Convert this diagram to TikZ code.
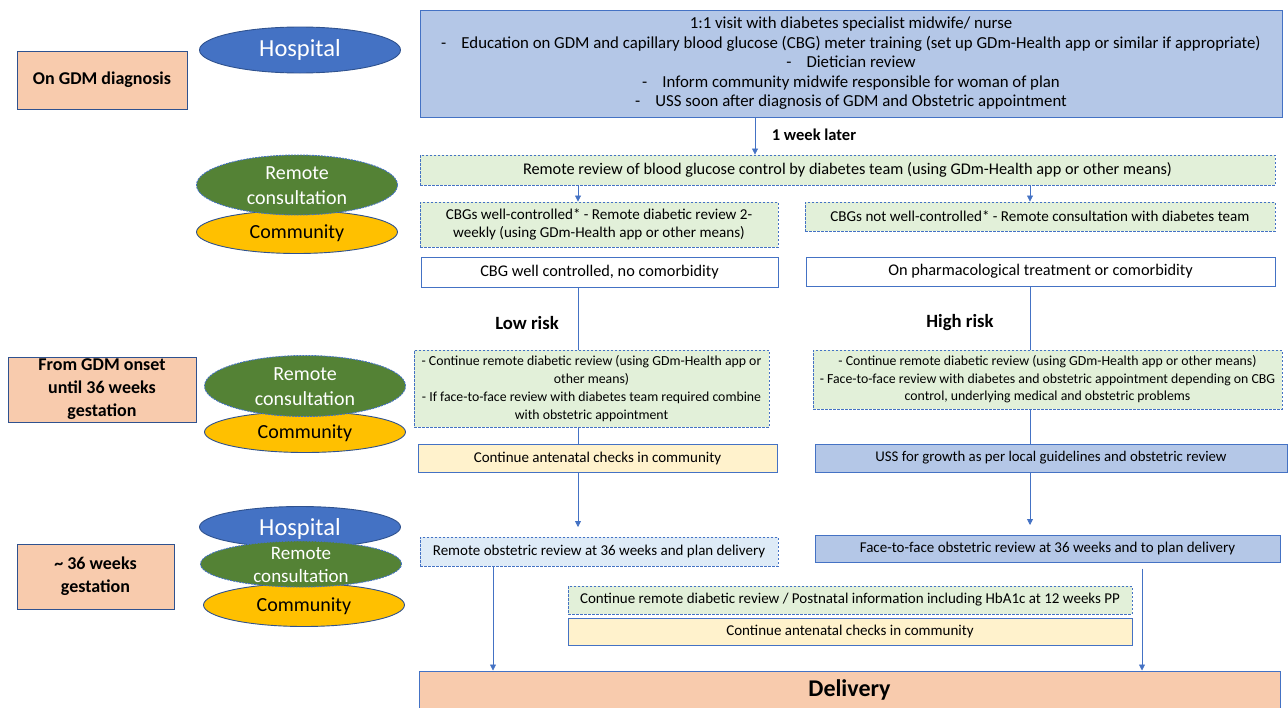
\documentclass[tikz,border=0pt]{standalone}
\usepackage{fontspec}
\setmainfont{Carlito}
\usetikzlibrary{shapes.geometric,arrows.meta}

\definecolor{edge}{HTML}{4472C4}
\definecolor{darkedge}{HTML}{2F528F}
\definecolor{peach}{HTML}{F8CBAD}
\definecolor{lgreen}{HTML}{E2F0D9}
\definecolor{lyellow}{HTML}{FFF2CC}
\definecolor{lblue}{HTML}{B4C7E7}
\definecolor{paleblue}{HTML}{DEEBF7}
\definecolor{hosp}{HTML}{4472C4}
\definecolor{rgreen}{HTML}{548235}
\definecolor{cyellow}{HTML}{FFC000}

\newcommand\setfs[2]{\fontsize{#1}{#2}\selectfont}

\tikzset{
  base/.style={inner sep=0pt, align=center},
  solidbox/.style={base, rectangle, draw=edge, line width=1pt},
  dashbox/.style={base, rectangle, draw=edge, line width=0.9pt,
    dash pattern=on 2.5pt off 1.5pt, fill=lgreen},
  stagebox/.style={solidbox, fill=peach, draw=darkedge, font=\bfseries\setfs{18}{23}},
  place/.style={ellipse, inner sep=0pt, line width=0.9pt, draw=darkedge, minimum width=201},
  hospital/.style={place, fill=hosp},
  remote/.style={place, fill=rgreen, draw=edge, dash pattern=on 2pt off 1pt},
  community/.style={place, fill=cyellow},
  placetext/.style={base, font=\setfs{20}{25}},
  heading/.style={base, font=\bfseries\setfs{18.7}{21}},
  conn/.style={draw=edge, line width=0.8pt},
  arr/.style={conn, -{Triangle[length=6pt,width=6pt]}},
}

\begin{document}
\begin{tikzpicture}[x=1pt,y=-1pt]
\useasboundingbox (0,0) rectangle (1288,707);
\clip (0,0) rectangle (1288,707);
\fill[white] (0,0) rectangle (1288,707);

% column positions of the connectors
\coordinate (colM) at (755,0);
\coordinate (colA) at (578,0);
\coordinate (colB) at (1030,0);
\coordinate (colL) at (493,0);
\coordinate (colR) at (1142,0);
\coordinate (tipA) at (578,527);
\coordinate (tipB) at (1030,525);

% ---- stage labels (left column) ----
\node[stagebox, minimum width=170, minimum height=58] (diag) at (102,80) {On GDM diagnosis};
\node[stagebox, minimum width=188, minimum height=65] (onset) at (102,389.5)
  {From GDM onset\\until 36 weeks\\gestation};
\node[stagebox, minimum width=157, minimum height=65] (wk36) at (95.5,576.5)
  {\textasciitilde\ 36 weeks\\gestation};

% ---- care settings ----
\node[hospital, minimum height=46] (hosp1) at (300,50) {};
\node[placetext, text=white, font=\setfs{24.5}{27}] (hosp1t) at (hosp1) {Hospital};

\node[community, minimum height=43] (com1) at (297,232) {};
\node[remote, minimum height=60] (rc1) at (297,185) {};
\node[placetext] (com1t) at (297,233) {Community};
\node[placetext, text=white] (rc1t) at (297,186) {Remote\\consultation};

\node[community, minimum height=41] (com2) at (305,432) {};
\node[remote, minimum height=61] (rc2) at (305,386) {};
\node[placetext] (com2t) at (305,433) {Community};
\node[placetext, text=white] (rc2t) at (305,387) {Remote\\consultation};

\node[hospital, minimum height=41] (hosp2) at (300,527) {};
\node[community, minimum height=43] (com3) at (304,605) {};
\node[remote, minimum height=46] (rc3) at (301,564) {};
\node[placetext, text=white, font=\setfs{24.5}{27}] (hosp2t) at (300,529) {Hospital};
\node[placetext, text=white, font=\setfs{19}{23}] (rc3t) at (301,565) {Remote\\consultation};
\node[placetext] (com3t) at (304,606) {Community};

% ---- pathway ----
\node[solidbox, fill=lblue, minimum width=862, minimum height=107, font=\setfs{16.8}{19.5}] (top) at (851,63.5)
  {1:1 visit with diabetes specialist midwife/ nurse\\
   -\hspace{0.9em}Education on GDM and capillary blood glucose (CBG) meter training (set up GDm-Health app or similar if appropriate)\\
   -\hspace{0.9em}Dietician review\\
   -\hspace{0.9em}Inform community midwife responsible for woman of plan\\
   -\hspace{0.9em}USS soon after diagnosis of GDM and Obstetric appointment};

\node[base, font=\bfseries\setfs{16.5}{18}] (later) at (814,135) {1 week later};

\node[dashbox, minimum width=855, minimum height=30, font=\setfs{16.3}{18}] (rr) at (847.5,170)
  {Remote review of blood glucose control by diabetes team (using GDm-Health app or other means)};

\node[dashbox, minimum width=358, minimum height=45, font=\setfs{15.1}{18}] (cbgw) at (599,224.5)
  {CBGs well-controlled* - Remote diabetic review 2-\\weekly (using GDm-Health app or other means)};
\node[dashbox, minimum width=470, minimum height=29, font=\setfs{15.1}{18}] (cbgn) at (1040,216.5)
  {CBGs not well-controlled* - Remote consultation with diabetes team};

\node[solidbox, fill=white, minimum width=357, minimum height=30, font=\setfs{16.3}{18}] (wc) at (599.5,272)
  {CBG well controlled, no comorbidity};
\node[solidbox, fill=white, minimum width=469, minimum height=29, font=\setfs{16.3}{18}] (ph) at (1040.5,271.5)
  {On pharmacological treatment or comorbidity};

\node[heading] (low) at (527,323) {Low risk};
\node[heading] (high) at (960,323) {High risk};

\node[dashbox, minimum width=355, minimum height=77, font=\setfs{13.8}{18}] (lg) at (591.5,388.5)
  {- Continue remote diabetic review (using GDm-Health app or\\
   other means)\\
   - If face-to-face review with diabetes team required combine\\
   with obstetric appointment};
\node[dashbox, minimum width=469, minimum height=59, font=\setfs{13.8}{17.5}] (hg) at (1047.5,379.5)
  {- Continue remote diabetic review (using GDm-Health app or other means)\\
   - Face-to-face review with diabetes and obstetric appointment depending on CBG\\
   control, underlying medical and obstetric problems};

\node[solidbox, fill=lyellow, minimum width=359, minimum height=28, font=\setfs{15}{17}] (ly) at (597.5,458)
  {Continue antenatal checks in community};
\node[solidbox, fill=lblue, minimum width=472, minimum height=28, font=\setfs{14.8}{17}] (uss) at (1051,458)
  {USS for growth as per local guidelines and obstetric review};

\node[dashbox, fill=paleblue, minimum width=358, minimum height=29, font=\setfs{15}{17}] (ro) at (599,551.5)
  {Remote obstetric review at 36 weeks and plan delivery};
\node[solidbox, fill=lblue, minimum width=465, minimum height=27, font=\setfs{15}{17}] (ff) at (1047.5,548.5)
  {Face-to-face obstetric review at 36 weeks and to plan delivery};

\node[dashbox, minimum width=564, minimum height=28, font=\setfs{15}{17}] (pn) at (850,600)
  {Continue remote diabetic review / Postnatal information including HbA1c at 12 weeks PP};
\node[solidbox, fill=lyellow, minimum width=564, minimum height=27, font=\setfs{15}{17}] (ac) at (850,631.5)
  {Continue antenatal checks in community};

\node[solidbox, fill=peach, minimum width=861, minimum height=38, font=\bfseries\setfs{24}{27}] (del) at (849.5,690)
  {Delivery};

% ---- connectors ----
\draw[arr] (top.south -| colM) -- (rr.north -| colM);
\draw[arr] (rr.south -| colA) -- (cbgw.north -| colA);
\draw[arr] (rr.south -| colB) -- (cbgn.north -| colB);

\draw[conn] (wc.south -| colA) -- (lg.north -| colA);
\draw[conn] (lg.south -| colA) -- (ly.north -| colA);
\draw[arr]  (ly.south -| colA) -- (tipA);

\draw[conn] (ph.south -| colB) -- (hg.north -| colB);
\draw[conn] (hg.south -| colB) -- (uss.north -| colB);
\draw[arr]  (uss.south -| colB) -- (tipB);

\draw[arr] (ro.south -| colL) -- (del.north -| colL);
\draw[arr] ([yshift=-6pt]ff.south -| colR) -- (del.north -| colR);
\end{tikzpicture}
\end{document}
